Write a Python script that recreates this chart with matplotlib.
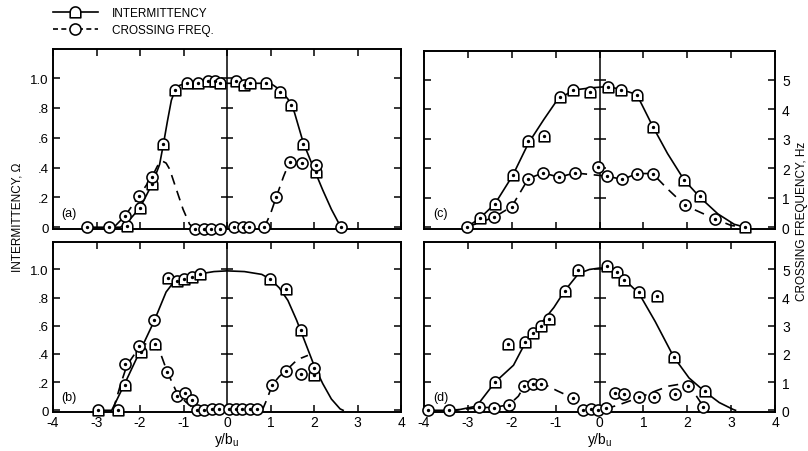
import numpy as np
import matplotlib
matplotlib.use('Agg')
import matplotlib.pyplot as plt
from matplotlib.path import Path
from matplotlib.lines import Line2D

plt.rcParams['font.family'] = ['Liberation Sans', 'DejaVu Sans']
plt.rcParams['mathtext.fontset'] = 'custom'
plt.rcParams['mathtext.rm'] = 'Liberation Sans'
plt.rcParams['mathtext.it'] = 'Liberation Sans'

# ---------------- data (intermittency in Omega, crossing freq in Hz) ----------------
x_ticks = [-4, -3, -2, -1, 0, 1, 2, 3, 4]
omega_ticks = [0, 0.2, 0.4, 0.6, 0.8, 1.0]
omega_labels = ['0', '.2', '.4', '.6', '.8', '1.0']
hz_ticks = [0, 1, 2, 3, 4, 5]
hz_labels = ['0', '1', '2', '3', '4', '5']

# panel (a)
a_int_x = [-2.31, -2.01, -1.72, -1.46, -1.20, -0.92, -0.67, -0.44, -0.28, -0.15, 0.21, 0.38, 0.54, 0.90, 1.21, 1.48, 1.75, 2.04]
a_int_y = [0.01, 0.13, 0.29, 0.56, 0.92, 0.97, 0.97, 0.98, 0.98, 0.97, 0.98, 0.955, 0.97, 0.97, 0.91, 0.82, 0.56, 0.37]
a_crs_x = [-3.22, -2.71, -2.35, -2.02, -1.72, -0.73, -0.54, -0.36, -0.17, 0.16, 0.37, 0.51, 0.84, 1.13, 1.44, 1.73, 2.05, 2.63]
a_crs_hz = [0, 0, 0.37, 1.05, 1.7, -0.05, -0.05, -0.05, -0.05, 0, 0, 0, 0, 1.0, 2.2, 2.15, 2.1, 0]
a_fit_x = [-3.22, -2.45, -2.3, -2.0, -1.72, -1.55, -1.46, -1.37, -1.28, -1.2, -1.1, -1.0, -0.7, 0.0, 0.5, 1.0, 1.2, 1.4, 1.55, 1.75, 2.0, 2.2, 2.4, 2.6, 2.63]
a_fit_y = [0, 0, 0.03, 0.13, 0.29, 0.42, 0.56, 0.71, 0.85, 0.915, 0.95, 0.96, 0.965, 0.965, 0.965, 0.965, 0.925, 0.86, 0.77, 0.57, 0.39, 0.25, 0.12, 0.01, 0]
a_crl_x = [-2.6, -2.35, -2.02, -1.72, -1.6, -1.49, -1.4, -1.32, -1.16, -1.01, -0.86, -0.78]
a_crl_hz = [0, 0.37, 1.05, 1.7, 2.05, 2.22, 2.15, 1.95, 1.25, 0.6, 0.1, 0]
a_crr_x = [0.86, 1.0, 1.13, 1.3, 1.44, 1.6, 1.73]
a_crr_hz = [0, 0.45, 1.0, 1.7, 2.2, 2.2, 2.15]

# panel (b)
b_int_x = [-2.97, -2.51, -2.35, -1.97, -1.66, -1.36, -1.16, -1.0, -0.80, -0.61, 0.98, 1.36, 1.69, 1.99]
b_int_y = [0, 0, 0.18, 0.415, 0.47, 0.94, 0.92, 0.93, 0.95, 0.97, 0.93, 0.86, 0.57, 0.25]
b_crs_x = [-2.35, -2.02, -1.68, -1.37, -1.16, -0.97, -0.80, -0.70, -0.53, -0.34, -0.18, 0.05, 0.21, 0.35, 0.52, 0.69, 1.04, 1.35, 1.69, 1.99]
b_crs_hz = [1.65, 2.3, 3.2, 1.35, 0.5, 0.6, 0.35, 0, 0, 0.03, 0.03, 0.03, 0.03, 0.03, 0.05, 0.05, 0.9, 1.4, 1.3, 1.5]
b_fit_x = [-2.97, -2.65, -2.35, -2.0, -1.68, -1.4, -1.2, -1.0, -0.6, -0.3, 0.0, 0.4, 0.8, 1.0, 1.2, 1.4, 1.6, 1.8, 2.0, 2.2, 2.4, 2.6, 2.67]
b_fit_y = [0, 0, 0.19, 0.42, 0.63, 0.84, 0.92, 0.945, 0.97, 0.985, 0.99, 0.985, 0.965, 0.93, 0.87, 0.78, 0.64, 0.48, 0.32, 0.19, 0.08, 0.01, 0]
b_crl_x = [-2.62, -2.45, -2.3, -2.1, -1.9, -1.66, -1.5, -1.37, -1.16, -0.95, -0.75, -0.67]
b_crl_hz = [0, 0.9, 1.6, 2.05, 2.35, 2.4, 1.9, 1.35, 0.65, 0.3, 0.05, 0]
b_crr_x = [0.81, 0.92, 1.04, 1.2, 1.35, 1.55, 1.7, 1.86]
b_crr_hz = [0, 0.4, 0.9, 1.2, 1.4, 1.7, 1.85, 1.95]

# panel (c)
c_int_x = [-2.73, -2.38, -1.98, -1.62, -1.27, -0.91, -0.60, -0.21, 0.19, 0.48, 0.85, 1.22, 1.93, 2.30, 3.32]
c_int_y = [0.062, 0.16, 0.352, 0.586, 0.62, 0.882, 0.932, 0.914, 0.954, 0.932, 0.898, 0.682, 0.322, 0.21, 0]
c_crs_x = [-3.03, -2.40, -2.0, -1.62, -1.29, -0.92, -0.56, -0.03, 0.18, 0.52, 0.86, 1.21, 1.95, 2.63]
c_crs_hz = [0, 0.34, 0.70, 1.65, 1.84, 1.70, 1.84, 2.05, 1.73, 1.62, 1.82, 1.82, 0.74, 0.28]
c_fit_x = [-3.03, -2.73, -2.38, -1.98, -1.62, -1.27, -0.97, -0.6, -0.2, 0.19, 0.48, 0.85, 1.22, 1.55, 1.93, 2.3, 2.7, 3.07, 3.32]
c_fit_y = [0, 0.06, 0.16, 0.35, 0.57, 0.73, 0.86, 0.93, 0.945, 0.954, 0.935, 0.9, 0.68, 0.5, 0.32, 0.2, 0.09, 0.02, 0]
c_crl_x = [-3.03, -2.4, -2.0, -1.62, -1.29, -0.92, -0.56, 0.18, 0.52, 0.86, 1.21, 1.55, 1.95, 2.63, 3.0, 3.3]
c_crl_hz = [0, 0.34, 0.7, 1.65, 1.84, 1.7, 1.84, 1.73, 1.62, 1.82, 1.82, 1.3, 0.74, 0.28, 0.06, 0]

# panel (d)
d_int_x = [-2.38, -2.08, -1.69, -1.52, -1.33, -1.14, -0.79, -0.48, 0.17, 0.41, 0.56, 0.90, 1.31, 1.69, 2.41]
d_int_y = [0.198, 0.472, 0.484, 0.55, 0.602, 0.65, 0.848, 0.996, 1.026, 0.984, 0.928, 0.838, 0.81, 0.38, 0.134]
d_crs_x = [-3.91, -3.42, -2.75, -2.41, -2.06, -1.71, -1.52, -1.33, -0.60, -0.38, -0.19, -0.04, 0.14, 0.35, 0.56, 0.90, 1.25, 1.72, 2.02, 2.37]
d_crs_hz = [0, 0, 0.13, 0.07, 0.19, 0.87, 0.95, 0.93, 0.43, 0, 0.06, 0, 0.07, 0.61, 0.57, 0.48, 0.48, 0.57, 0.87, 0.13]
d_fit_x = [-3.91, -3.42, -3.27, -2.8, -2.38, -1.96, -1.69, -1.35, -1.04, -0.79, -0.48, -0.23, 0.0, 0.17, 0.41, 0.56, 0.9, 1.27, 1.69, 2.04, 2.41, 2.73, 3.04, 3.1]
d_fit_y = [0, 0, 0, 0.03, 0.2, 0.32, 0.48, 0.61, 0.73, 0.85, 0.97, 1.0, 1.01, 1.01, 0.98, 0.93, 0.83, 0.63, 0.38, 0.23, 0.13, 0.055, 0.007, 0]
d_crl_x = [-3.42, -3.0, -2.75, -2.41, -2.06, -1.85, -1.71, -1.52, -1.33, -0.96, -0.6, -0.38, -0.3]
d_crl_hz = [0, 0.05, 0.1, 0.1, 0.2, 0.5, 0.87, 0.98, 0.98, 0.69, 0.43, 0.05, 0]
d_crr_x = [0.14, 0.45, 0.9, 1.27, 1.58, 1.88, 2.02, 2.19, 2.37, 2.46]
d_crr_hz = [0.05, 0.2, 0.45, 0.68, 0.86, 0.94, 0.87, 0.55, 0.13, 0]

# ---------------- marker: square with rounded top ----------------
theta = np.linspace(0, np.pi, 20)
verts = [(-1, -1), (1, -1), (1, 0.05)] + [(np.cos(t), 0.05 + np.sin(t)) for t in theta[1:]] + [(-1, -1)]
codes = [Path.MOVETO] + [Path.LINETO] * (len(verts) - 2) + [Path.CLOSEPOLY]
house = Path(verts, codes)

MS = 8
MEW = 1.15
LW = 1.2

fig = plt.figure(figsize=(8.08, 4.52), dpi=100)

panels = [
    ('a', [53/808, 1-230/452, 348/808, 180/452], a_int_x, a_int_y, a_crs_x, a_crs_hz, a_fit_x, a_fit_y,
     [(a_crl_x, a_crl_hz), (a_crr_x, a_crr_hz)], True, False),
    ('b', [53/808, 1-413/452, 348/808, 170/452], b_int_x, b_int_y, b_crs_x, b_crs_hz, b_fit_x, b_fit_y,
     [(b_crl_x, b_crl_hz), (b_crr_x, b_crr_hz)], True, True),
    ('c', [424/808, 1-230/452, 351/808, 178/452], c_int_x, c_int_y, c_crs_x, c_crs_hz, c_fit_x, c_fit_y,
     [(c_crl_x, c_crl_hz)], False, False),
    ('d', [424/808, 1-413/452, 351/808, 170/452], d_int_x, d_int_y, d_crs_x, d_crs_hz, d_fit_x, d_fit_y,
     [(d_crl_x, d_crl_hz), (d_crr_x, d_crr_hz)], False, True),
]

YLO, YHI = -0.012, 1.195

for (letter, pos, ix, iy, cx, chz, fx, fy, dashes, left_col, bottom_row) in panels:
    ax = fig.add_axes(pos)
    ax2 = ax.twinx()
    ax.set_xlim(-4, 4)
    ax.set_ylim(YLO, YHI)
    ax2.set_ylim(YLO * 5, YHI * 5)
    for a in (ax, ax2):
        for s in a.spines.values():
            s.set_linewidth(1.2)
    ax.set_xticks(x_ticks)
    ax.set_yticks(omega_ticks)
    ax2.set_yticks(hz_ticks)
    ax.tick_params(axis='x', direction='in', top=True, bottom=True, length=5, width=1.1,
                   labelbottom=bottom_row, labelsize=10, pad=2)
    ax.tick_params(axis='y', direction='in', left=True, right=False, length=5, width=1.1,
                   labelleft=left_col, labelsize=9.5, pad=3)
    ax2.tick_params(axis='y', direction='in', right=True, length=5, width=1.1,
                    labelright=not left_col, labelsize=10, pad=5)
    ax.set_yticklabels(omega_labels)
    ax2.set_yticklabels(hz_labels)
    ax.set_xticklabels([str(t) for t in x_ticks])

    # centre line with cross ticks
    ax.axvline(0, color='k', lw=1.1, zorder=1)
    ax.plot(np.zeros(len(omega_ticks) - 1), omega_ticks[1:], ls='none', marker='_', ms=9,
            mew=1.1, color='k', zorder=1)

    # fitted curves
    ax.plot(fx, fy, color='k', lw=LW, zorder=2)
    for dx, dhz in dashes:
        ax2.plot(dx, dhz, color='k', lw=LW, ls=(0, (6, 4)), zorder=2)

    # markers
    ax2.plot(ix, np.array(iy) * 5, ls='none', marker=house, ms=MS, mfc='white', mec='k',
             mew=MEW, zorder=4, clip_on=False)
    ax2.plot(ix, np.array(iy) * 5, ls='none', marker='o', ms=1.4, color='k', zorder=5, clip_on=False)
    ax2.plot(cx, chz, ls='none', marker='o', ms=MS, mfc='white', mec='k', mew=MEW,
             zorder=4, clip_on=False)
    ax2.plot(cx, chz, ls='none', marker='o', ms=1.4, color='k', zorder=5, clip_on=False)

    ax.text(0.025, 0.09, '(%s)' % letter, transform=ax.transAxes, fontsize=9, ha='left', va='center')
    if bottom_row:
        ax.set_xlabel(r'y/b$_\mathrm{u}$', fontsize=10, labelpad=1)

fig.text(0.022, 0.52, 'INTERMITTENCY, Ω', rotation=90, fontsize=8.5, ha='center', va='center')
fig.text(0.992, 0.51, 'CROSSING FREQUENCY, Hz', rotation=90, fontsize=8.5, ha='center', va='center')

h1 = Line2D([], [], color='k', lw=LW, marker=house, ms=MS, mfc='white', mec='k', mew=MEW)
h2 = Line2D([], [], color='k', lw=LW, ls=(0, (3, 2)), marker='o', ms=MS, mfc='white', mec='k', mew=MEW)
fig.legend([h1, h2], ['INTERMITTENCY', 'CROSSING FREQ.'], loc='upper left',
           bbox_to_anchor=(48/808, 1 - 3/452), frameon=False, fontsize=8.5, handlelength=3.8,
           handletextpad=1.2, labelspacing=0.45, borderaxespad=0.2, borderpad=0.2)

fig.savefig('out.png', dpi=100)
